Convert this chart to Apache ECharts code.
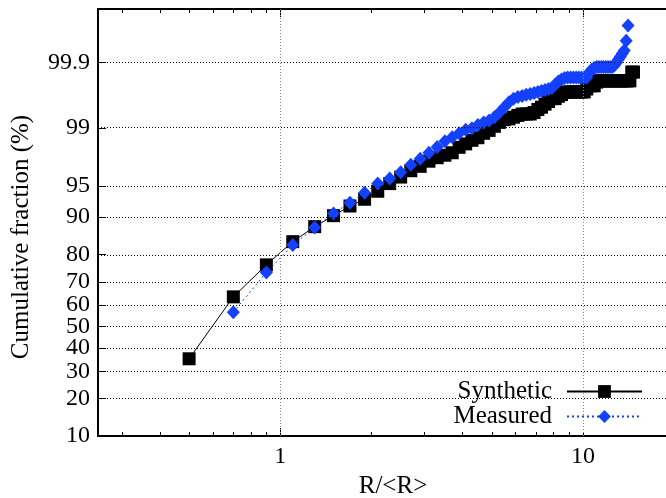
<!DOCTYPE html>
<html>
<head>
<meta charset="utf-8">
<script src="https://cdn.jsdelivr.net/npm/echarts@6/dist/echarts.min.js"></script>
<style>
html,body{margin:0;padding:0;overflow:hidden;background:#fff;}
#chart{width:700px;height:498px;}
</style>
</head>
<body>
<div id="chart"></div>
<script>
// ---- data (percent cumulative fraction vs R/<R>) ----
const synthX = [0.5,0.7,0.9,1.1,1.3,1.5,1.7,1.9,2.1,2.3,2.5,2.7,2.9,3.1,3.3,3.5,3.7,3.9,4.1,4.3,4.5,4.7,4.9,5.1,5.3,5.5,5.7,5.9,6.1,6.3,6.5,6.7,6.9,7.1,7.3,7.5,7.7,7.9,8.1,8.3,8.5,8.7,8.9,9.1,9.3,9.5,9.7,9.9,10.1,10.3,10.5,10.7,10.9,11.1,11.3,11.5,11.7,11.9,12.1,12.3,12.5,12.7,12.9,13.1,13.3,13.5,13.7,13.9,14.1,14.3,14.5,14.7];
const synthY = [35.3,63.6,76.5,84.0,87.9,90.3,92.1,93.2,94.35,95.3,96.0,96.6,96.97,97.36,97.6,97.76,97.91,98.21,98.38,98.54,98.65,98.82,98.92,99.05,99.16,99.23,99.25,99.29,99.33,99.36,99.36,99.36,99.39,99.45,99.49,99.54,99.58,99.62,99.62,99.65,99.67,99.695,99.70,99.70,99.70,99.70,99.70,99.70,99.70,99.73,99.76,99.76,99.76,99.79,99.80,99.80,99.80,99.80,99.80,99.80,99.80,99.80,99.80,99.80,99.80,99.80,99.80,99.80,99.80,99.80,99.856,99.856];
const measX = [0.7,0.9,1.1,1.3,1.5,1.7,1.9,2.1,2.3,2.5,2.7,2.9,3.1,3.3,3.5,3.7,3.9,4.1,4.3,4.5,4.7,4.9,5.1,5.3,5.5,5.7,5.9,6.1,6.3,6.5,6.7,6.9,7.1,7.3,7.5,7.7,7.9,8.1,8.3,8.5,8.7,8.9,9.1,9.3,9.5,9.7,9.9,10.1,10.3,10.5,10.7,10.9,11.1,11.3,11.5,11.7,11.9,12.1,12.3,12.5,12.7,12.9,13.1,13.3,13.5,13.7,13.9,14.1];
const measY = [56.7,73.7,83.0,87.7,90.74,92.66,94.16,95.30,95.85,96.46,97.10,97.53,97.91,98.23,98.50,98.67,98.82,98.94,98.99,99.09,99.16,99.21,99.29,99.39,99.49,99.57,99.62,99.64,99.654,99.667,99.678,99.689,99.70,99.71,99.72,99.731,99.74,99.771,99.795,99.81,99.82,99.823,99.823,99.823,99.823,99.823,99.823,99.823,99.823,99.854,99.869,99.877,99.882,99.882,99.882,99.882,99.882,99.882,99.882,99.882,99.888,99.90,99.912,99.922,99.931,99.939,99.959,99.979];
const yTickPct = [10,20,30,40,50,60,70,80,90,95,99,99.9];
const yTickLabels = ['10','20','30','40','50','60','70','80','90','95','99','99.9'];
const xMajor = [1,10];
const xMajorLabels = ['1','10'];
const xMinor = [0.3,0.4,0.5,0.6,0.7,0.8,0.9,2,3,4,5,6,7,8,9];
const xRange = [0.25,20];
const yRangePct = [10,99.99];

// inverse normal CDF (probability-scale axis)
function probit(p){
  const a=[-3.969683028665376e+01,2.209460984245205e+02,-2.759285104469687e+02,1.383577518672690e+02,-3.066479806614716e+01,2.506628277459239e+00];
  const b=[-5.447609879822406e+01,1.615858368580409e+02,-1.556989798598866e+02,6.680131188771972e+01,-1.328068155288572e+01];
  const c=[-7.784894002430293e-03,-3.223964580411365e-01,-2.400758277161838e+00,-2.549732539343734e+00,4.374664141464968e+00,2.938163982698783e+00];
  const d=[7.784695709041462e-03,3.224671290700398e-01,2.445134137142996e+00,3.754408661907416e+00];
  const pl=0.02425, ph=1-pl; let q,r;
  if(p<pl){q=Math.sqrt(-2*Math.log(p));return (((((c[0]*q+c[1])*q+c[2])*q+c[3])*q+c[4])*q+c[5])/((((d[0]*q+d[1])*q+d[2])*q+d[3])*q+1);}
  if(p>ph){q=Math.sqrt(-2*Math.log(1-p));return -(((((c[0]*q+c[1])*q+c[2])*q+c[3])*q+c[4])*q+c[5])/((((d[0]*q+d[1])*q+d[2])*q+d[3])*q+1);}
  q=p-0.5;r=q*q;return (((((a[0]*r+a[1])*r+a[2])*r+a[3])*r+a[4])*r+a[5])*q/(((((b[0]*r+b[1])*r+b[2])*r+b[3])*r+b[4])*r+1);
}
const pz = v => probit(v/100);
const lg = v => Math.log10(v);

const yTickZ = yTickPct.map(pz);
const yMin = pz(yRangePct[0]), yMax = pz(yRangePct[1]);
const xMin = lg(xRange[0]), xMax = lg(xRange[1]);
const FONT = 'Liberation Serif';

function nearestLabel(v, vals, labels){
  let best=0, bd=Infinity;
  vals.forEach((t,i)=>{const dd=Math.abs(t-v); if(dd<bd){bd=dd;best=i;}});
  return bd<1e-6 ? labels[best] : '';
}

const baseX = {type:'value', min:xMin, max:xMax, splitLine:{show:false}};
const baseY = {type:'value', min:yMin, max:yMax, splitLine:{show:false}};
const line2 = {show:true, onZero:false, lineStyle:{color:'#000', width:2}};
const noLine = {show:false, onZero:false};

const chart = echarts.init(document.getElementById('chart'), null, {renderer:'canvas'});
chart.setOption({
  animation:false,
  backgroundColor:'#fff',
  grid:{left:98, right:26, top:9, bottom:62, outerBoundsMode:'none', containLabel:false},
  xAxis:[
    Object.assign({}, baseX, {position:'bottom',
      axisLine:line2,
      axisTick:{show:true, inside:true, length:8, customValues:xMajor.map(lg), lineStyle:{color:'#000', width:1}},
      axisLabel:{show:true, customValues:xMajor.map(lg), margin:9, color:'#000', fontFamily:FONT, fontSize:24,
        formatter:v=>nearestLabel(v, xMajor.map(lg), xMajorLabels)},
      name:'R/<R>', nameLocation:'middle', nameGap:37,
      nameTextStyle:{fontFamily:FONT, fontSize:25, color:'#000', padding:[0,0,0,14]}
    }),
    Object.assign({}, baseX, {position:'bottom',
      axisLine:noLine,
      axisTick:{show:true, inside:true, length:4, customValues:xMinor.map(lg), lineStyle:{color:'#000', width:1}},
      axisLabel:{show:false}
    }),
    Object.assign({}, baseX, {position:'top',
      axisLine:line2,
      axisTick:{show:true, inside:true, length:8, customValues:xMajor.map(lg), lineStyle:{color:'#000', width:1}},
      axisLabel:{show:false}
    }),
    Object.assign({}, baseX, {position:'top',
      axisLine:noLine,
      axisTick:{show:true, inside:true, length:4, customValues:xMinor.map(lg), lineStyle:{color:'#000', width:1}},
      axisLabel:{show:false}
    })
  ],
  yAxis:[
    Object.assign({}, baseY, {position:'left',
      axisLine:line2,
      axisTick:{show:true, inside:true, length:8, customValues:yTickZ, lineStyle:{color:'#000', width:1}},
      axisLabel:{show:true, customValues:yTickZ, margin:8, color:'#000', fontFamily:FONT, fontSize:24,
        formatter:v=>nearestLabel(v, yTickZ, yTickLabels)},
      name:'Cumulative fraction (%)', nameLocation:'middle', nameGap:64,
      nameTextStyle:{fontFamily:FONT, fontSize:25, color:'#000', padding:[0,29,0,0]}
    }),
    Object.assign({}, baseY, {position:'right',
      axisLine:line2,
      axisTick:{show:true, inside:true, length:8, customValues:yTickZ, lineStyle:{color:'#000', width:1}},
      axisLabel:{show:false}
    })
  ],
  legend:{
    orient:'vertical', right:42, top:374, align:'right',
    data:['Synthetic','Measured'],
    itemWidth:75, itemHeight:16, itemGap:0,
    padding:[5,15,3,41],
    backgroundColor:'#fff',
    selectedMode:false,
    textStyle:{fontFamily:FONT, fontSize:25, color:'#000', padding:[0,10,0,0]}
  },
  series:[
    {
      name:'grid', type:'line', data:[], z:1, silent:true,
      markLine:{
        silent:true, symbol:['none','none'], animation:false,
        label:{show:false},
        lineStyle:{type:[1,2], color:'#000', width:1},
        emphasis:{disabled:true},
        data: yTickZ.slice(1).map(v=>({yAxis:v}))
          .concat(xMajor.map(v=>({xAxis:lg(v), lineStyle:{color:'#888', type:[1,2], width:1}})))
      }
    },
    {
      name:'Synthetic', type:'line', z:2,
      data: synthX.map((x,i)=>[lg(x), pz(synthY[i])]),
      symbol:'rect', symbolSize:13,
      itemStyle:{color:'#000'},
      lineStyle:{color:'#000', width:1},
      emphasis:{disabled:true}
    },
    {
      name:'Measured', type:'line', z:3,
      data: measX.map((x,i)=>[lg(x), pz(measY[i])]),
      symbol:'diamond', symbolSize:[13,14],
      itemStyle:{color:'#1440ff'},
      lineStyle:{color:'#1440ff', width:1, type:[2,3]},
      emphasis:{disabled:true}
    }
  ]
});
</script>
</body>
</html>
